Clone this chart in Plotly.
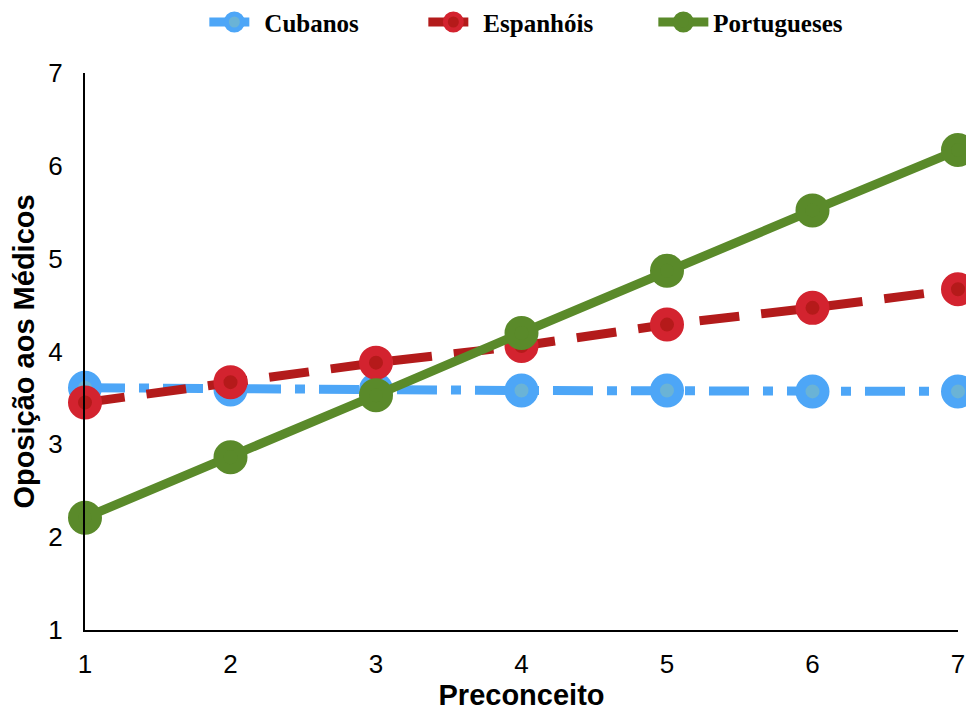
import plotly.graph_objects as go

x_vals = [1, 2, 3, 4, 5, 6, 7]
cubanos = [3.61, 3.59, 3.59, 3.58, 3.58, 3.57, 3.57]
espanhois = [3.45, 3.67, 3.88, 4.06, 4.29, 4.47, 4.67]
portugueses = [2.21, 2.86, 3.53, 4.20, 4.87, 5.52, 6.17]

series = [
    ("Cubanos", cubanos, "#4DA6F7", "#6AB3D6", "40px,14px,10px,14px", 154),
    ("Espanhóis", espanhois, "#D3232F", "#B51A1A", "40px,22px", 165),
    ("Portugueses", portugueses, "#5A8A2A", "#5A8A2A", "solid", 150),
]

fig = go.Figure()
for name, vals, outer, inner, dash, lw in series:
    line_col = "#B31B1B" if name == "Espanhóis" else outer
    fig.add_trace(go.Scatter(
        x=x_vals, y=vals, name=name, mode="lines+markers",
        line=dict(color=line_col, width=9, dash=dash),
        marker=dict(size=24, color=inner, line=dict(color=outer, width=10)),
        cliponaxis=False, legendwidth=lw,
    ))

fig.update_layout(
    width=974, height=713,
    paper_bgcolor="white", plot_bgcolor="white",
    margin=dict(l=77, r=24, t=65, b=91),
    showlegend=True,
    legend=dict(orientation="h", x=0.517, xanchor="center", y=0.980, yanchor="middle",
                yref="container",
                font=dict(family="Liberation Serif", size=25, color="black", weight="bold"),
                itemwidth=50, traceorder="normal"),
    font=dict(family="Liberation Sans", color="black"),
)
fig.update_xaxes(range=[1, 7], tickvals=x_vals, showgrid=False, zeroline=False,
                 showline=True, linecolor="black", linewidth=2, automargin=False,
                 tickfont=dict(size=26, family="Liberation Sans"), ticks="", ticklabelstandoff=10,
                 title=dict(text="<b>Preconceito</b>", font=dict(size=29), standoff=2))
fig.update_yaxes(range=[1, 7], tickvals=[1, 2, 3, 4, 5, 6, 7], showgrid=False, zeroline=False,
                 showline=True, linecolor="black", linewidth=2, automargin=False,
                 tickfont=dict(size=26, family="Liberation Sans"), ticks="", ticklabelstandoff=15,
                 title=dict(text="<b>Oposição aos Médicos</b>", font=dict(size=29), standoff=8))

fig.write_html("out.html")
